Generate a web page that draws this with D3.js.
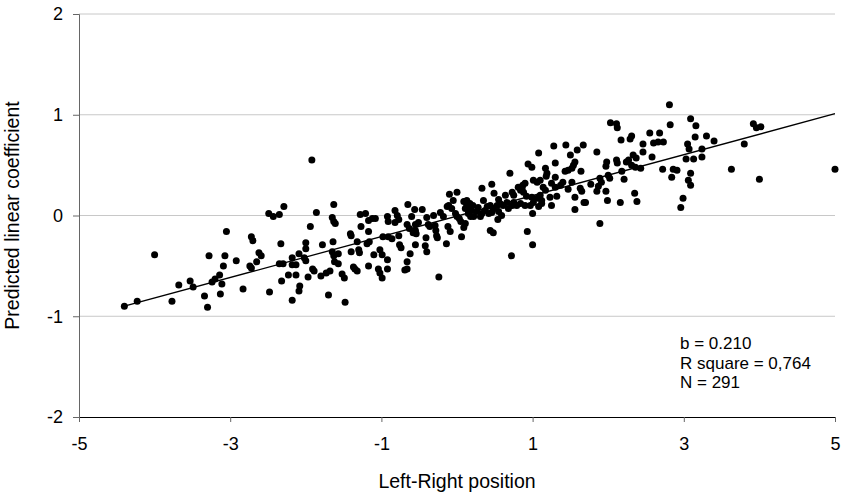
<!DOCTYPE html>
<html>
<head>
<meta charset="utf-8">
<script src="https://cdn.jsdelivr.net/npm/d3@7"></script>
<style>
  body { margin: 0; background: #fff; }
  text { font-family: "Liberation Sans", Arial, sans-serif; }
</style>
</head>
<body>
<svg id="chart" width="844" height="498"></svg>
<script>
// Left-Right position of each case (x) and predicted linear coefficient (y)
const lrPosition = [
  -4.40,-4.23,-4.00,-3.77,-3.68,-3.53,-3.49,-3.34,-3.30,-3.28,-3.24,-3.20,-3.14,-3.11,-3.13,-3.09,-3.07,-3.05,-2.92,-2.83,
  -2.72,-2.70,-2.74,-2.72,-2.65,-2.62,-2.59,-2.48,-2.49,-2.43,-2.35,-2.29,-2.33,-2.35,-2.30,-2.32,-2.23,-2.18,-2.13,-2.18,
  -2.13,-2.18,-2.09,-2.08,-2.09,-2.02,-2.00,-2.00,-2.00,-1.94,-1.97,-1.91,-1.89,-1.86,-1.78,-1.80,-1.73,-1.68,-1.70,-1.63,
  -1.65,-1.63,-1.61,-1.64,-1.65,-1.57,-1.63,-1.62,-1.57,-1.52,-1.49,-1.48,-1.92,-1.28,-1.41,-1.40,-1.40,-1.37,-1.35,-1.32,
  -1.32,-1.30,-1.29,-1.21,-1.27,-1.17,-1.19,-1.16,-1.17,-1.17,-1.12,-1.08,-1.10,-1.04,-1.02,-0.99,-1.02,-0.99,-0.98,-0.92,
  -0.91,-0.92,-0.92,-0.91,-0.86,-0.82,-0.79,-0.77,-0.82,-0.77,-0.76,-0.74,-0.69,-0.66,-0.66,-0.65,-0.62,-0.66,-0.63,-0.58,
  -0.55,-0.54,-0.56,-0.46,-0.60,-0.51,-0.55,-0.55,-0.42,-0.40,-0.41,-0.40,-0.38,-0.36,-0.31,-0.29,-0.28,-0.27,-0.26,-0.24,
  -0.22,-0.18,-0.14,-0.12,-0.09,-0.13,-0.11,-0.07,-0.05,-0.02,0.00,0.03,0.05,0.06,0.09,0.11,0.11,0.13,0.15,0.17,
  0.19,0.21,0.15,0.18,0.22,0.26,0.31,0.33,0.28,0.37,0.40,0.44,0.42,0.46,0.48,0.44,0.48,0.53,0.55,0.59,
  0.57,0.54,0.61,0.66,0.68,0.73,0.75,0.79,0.72,0.84,0.90,0.97,1.01,1.08,1.12,1.25,0.93,1.00,1.00,1.56,
  1.70,1.89,0.70,0.46,0.33,0.49,0.64,0.73,0.75,0.81,-0.10,0.00,0.13,0.35,0.55,0.09,2.03,2.11,2.12,2.55,
  2.68,2.31,2.29,2.17,2.60,2.66,2.73,2.46,1.28,1.44,1.67,1.59,1.50,1.85,1.08,2.46,2.33,2.37,2.58,1.56,
  1.54,1.52,1.47,1.43,1.30,0.94,0.99,1.98,1.97,2.11,2.12,2.24,2.27,2.31,2.36,2.43,2.72,1.17,1.19,1.18,
  1.30,1.64,2.18,1.01,1.06,1.10,0.90,0.87,0.86,1.25,1.30,1.37,1.40,1.14,1.17,1.47,1.52,1.63,1.65,1.77,
  1.89,1.91,1.87,1.85,2.00,2.02,1.97,2.21,2.35,2.38,2.16,1.99,1.68,1.56,1.23,1.32,1.10,1.12,1.06,0.99,
  0.88,0.92,0.84,2.81,3.09,3.16,2.82,3.92,3.96,4.02,3.15,3.30,3.40,3.05,3.07,3.24,3.80,3.03,3.13,3.24,
  2.86,2.91,3.63,4.00,5.00,2.84,3.09,3.06,3.09,2.99,2.96
];
const coefficient = [
  -0.90,-0.85,-0.39,-0.85,-0.69,-0.65,-0.71,-0.80,-0.91,-0.40,-0.66,-0.63,-0.59,-0.68,-0.78,-0.50,-0.40,-0.16,-0.45,-0.73,
  -0.21,-0.25,-0.50,-0.52,-0.46,-0.37,-0.40,-0.76,0.02,-0.01,0.01,0.09,-0.28,-0.48,-0.48,-0.65,-0.59,-0.49,-0.49,-0.42,
  -0.59,-0.84,-0.75,-0.70,-0.38,-0.42,-0.45,-0.27,-0.33,-0.11,-0.61,-0.53,-0.55,0.03,-0.29,-0.60,-0.57,-0.55,-0.79,0.11,
  -0.02,-0.06,-0.08,-0.26,-0.36,-0.38,-0.40,-0.46,-0.48,-0.58,-0.62,-0.86,0.55,0.01,-0.18,-0.20,-0.36,-0.51,-0.53,-0.55,
  -0.26,-0.34,-0.37,0.02,-0.11,-0.16,-0.28,-0.26,-0.50,-0.05,-0.03,-0.03,-0.39,-0.53,-0.57,-0.62,-0.34,-0.39,-0.21,-0.01,
  -0.06,-0.44,-0.53,-0.21,-0.23,0.05,0.00,-0.04,-0.07,-0.20,-0.29,-0.32,-0.54,-0.53,-0.46,0.11,-0.38,-0.09,-0.13,-0.17,
  -0.15,-0.18,0.06,0.06,-0.01,-0.07,-0.09,-0.29,-0.30,-0.36,-0.22,-0.02,-0.09,-0.11,0.00,-0.10,-0.15,-0.20,-0.22,-0.61,
  0.03,-0.01,-0.28,-0.11,-0.16,0.09,0.10,0.07,0.15,0.02,-0.01,-0.03,-0.06,-0.21,-0.12,-0.08,0.07,0.10,0.07,0.12,
  0.05,0.10,0.02,-0.01,-0.01,0.04,-0.01,0.02,0.08,0.05,0.09,0.10,0.02,0.03,0.07,-0.15,-0.17,0.10,0.04,0.00,
  0.12,-0.04,0.10,0.13,0.07,0.10,0.13,0.10,-0.40,0.12,0.10,0.10,0.13,0.09,0.12,0.10,-0.16,0.02,-0.29,0.06,
  0.13,-0.08,0.42,0.31,0.27,0.22,0.20,0.23,0.20,0.28,0.21,0.23,0.15,0.15,0.16,0.14,0.92,0.91,0.87,0.82,
  0.82,0.79,0.76,0.75,0.72,0.73,0.73,0.71,0.69,0.70,0.70,0.65,0.60,0.63,0.62,0.63,0.60,0.57,0.58,0.53,
  0.50,0.47,0.45,0.44,0.52,0.51,0.48,0.53,0.49,0.55,0.52,0.53,0.55,0.50,0.48,0.47,0.46,0.47,0.42,0.39,
  0.38,0.44,0.44,0.35,0.33,0.35,0.32,0.30,0.27,0.32,0.28,0.30,0.33,0.28,0.25,0.26,0.33,0.27,0.24,0.31,
  0.37,0.33,0.29,0.24,0.40,0.37,0.24,0.36,0.22,0.14,0.13,0.15,0.13,0.18,0.18,0.19,0.20,0.15,0.17,0.18,
  0.23,0.19,0.25,1.10,0.96,0.89,0.90,0.91,0.87,0.88,0.78,0.79,0.74,0.71,0.66,0.66,0.71,0.56,0.56,0.58,
  0.46,0.45,0.46,0.36,0.46,0.38,0.42,0.35,0.30,0.17,0.08
];

// Fitted line end points as drawn
const fitX = [-4.40, 5.00];
const fitY = [-0.90, 1.01];

const xTicks = [-5, -3, -1, 1, 3, 5];
const yTicks = [-2, -1, 0, 1, 2];
const statsText = ["b = 0.210", "R square = 0,764", "N = 291"];

const points = lrPosition.map((v, i) => ({ x: v, y: coefficient[i] }));

const svg = d3.select("#chart");
const margin = { top: 14, right: 9, bottom: 81, left: 79 };
const width = +svg.attr("width") - margin.left - margin.right;
const height = +svg.attr("height") - margin.top - margin.bottom;
const g = svg.append("g").attr("transform", `translate(${margin.left},${margin.top})`);

const x = d3.scaleLinear().domain([-5, 5]).range([0, width]);
const y = d3.scaleLinear().domain([-2, 2]).range([height, 0]);

// horizontal gridlines
g.append("g")
    .selectAll("line")
    .data(yTicks.filter(d => d > -2))
    .join("line")
    .attr("x1", 0)
    .attr("x2", width)
    .attr("y1", d => y(d))
    .attr("y2", d => y(d))
    .attr("stroke", "#c8c8c8")
    .attr("stroke-width", 1);

// y axis
const yAxis = g.append("g")
    .call(d3.axisLeft(y).tickValues(yTicks).tickFormat(d => String(d)).tickSize(6).tickPadding(10));
yAxis.select(".domain").attr("stroke", "#666");
yAxis.selectAll(".tick line").attr("stroke", "#666");
yAxis.selectAll(".tick text").attr("font-size", 18).attr("fill", "#000");

// x axis
const xAxis = g.append("g")
    .attr("transform", `translate(0,${height})`)
    .call(d3.axisBottom(x).tickValues(xTicks).tickFormat(d => String(d)).tickSizeInner(5).tickSizeOuter(0).tickPadding(15));
xAxis.select(".domain").attr("stroke", "#000");
xAxis.selectAll(".tick line").attr("stroke", "#666");
xAxis.selectAll(".tick text").attr("font-size", 18).attr("fill", "#000");

// regression line
g.append("path")
    .datum(fitX.map((v, i) => ({ x: v, y: fitY[i] })))
    .attr("fill", "none")
    .attr("stroke", "#000")
    .attr("stroke-width", 1.3)
    .attr("d", d3.line().x(d => x(d.x)).y(d => y(d.y)));

// points
g.append("g")
    .selectAll("circle")
    .data(points)
    .join("circle")
    .attr("cx", d => x(d.x))
    .attr("cy", d => y(d.y))
    .attr("r", 3.5)
    .attr("fill", "#000");

// stats box
g.append("text")
    .attr("x", x(2.95))
    .attr("y", y(-1.33))
    .attr("font-size", 17)
    .selectAll("tspan")
    .data(statsText)
    .join("tspan")
    .attr("x", x(2.95))
    .attr("dy", (d, i) => i === 0 ? 0 : 19.5)
    .text(d => d);

// axis titles
svg.append("text")
    .attr("x", margin.left + width / 2)
    .attr("y", 488)
    .attr("text-anchor", "middle")
    .attr("font-size", 19.5)
    .text("Left-Right position");

svg.append("text")
    .attr("transform", `translate(19,${margin.top + height / 2}) rotate(-90)`)
    .attr("text-anchor", "middle")
    .attr("font-size", 19.5)
    .text("Predicted linear coefficient");
</script>
</body>
</html>
